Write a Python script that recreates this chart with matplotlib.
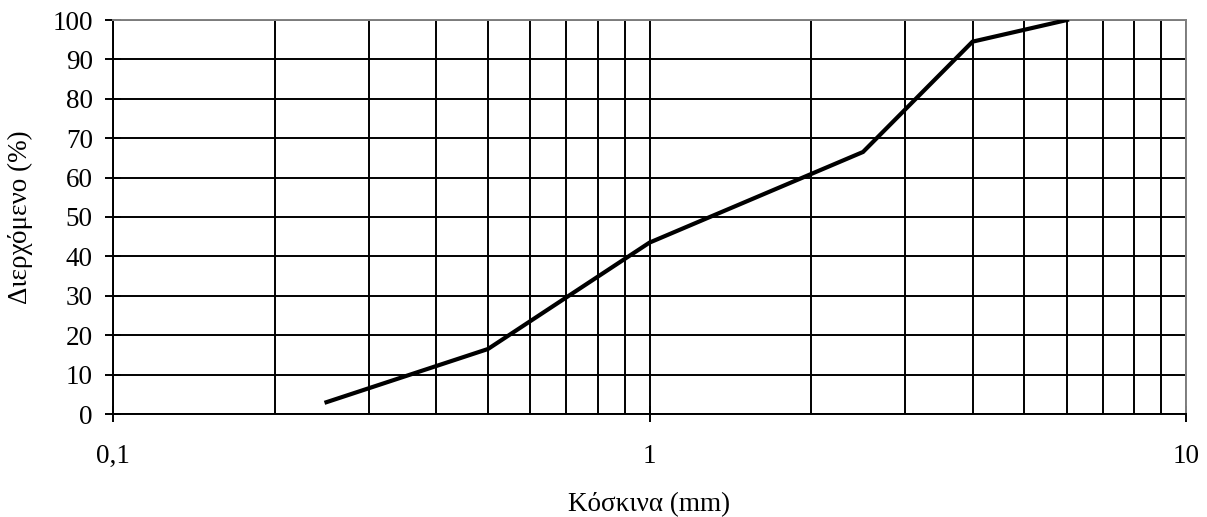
import matplotlib.pyplot as plt
from matplotlib.ticker import LogLocator, FixedLocator, NullFormatter

# Sieve analysis data
sieve_mm = [0.25, 0.5, 1.0, 2.5, 4.0, 6.0]
passing_pct = [3.0, 16.5, 43.5, 66.5, 94.5, 100.0]

x_ticks = [0.1, 1, 10]
x_tick_labels = ["0,1", "1", "10"]
y_ticks = list(range(0, 101, 10))

plt.rcParams['font.family'] = ['Liberation Serif', 'DejaVu Serif']

fig = plt.figure(figsize=(12.07, 5.17), dpi=100)
ax = fig.add_axes([113 / 1207, 1 - 414 / 517, (1186 - 113) / 1207, (414 - 20) / 517])

ax.plot(sieve_mm, passing_pct, color='black', linewidth=3.0, solid_joinstyle='miter', zorder=3)

ax.set_xscale('log')
ax.set_xlim(0.1, 10)
ax.set_ylim(0, 100)

ax.xaxis.set_major_locator(FixedLocator(x_ticks))
ax.set_xticklabels(x_tick_labels)
ax.xaxis.set_minor_locator(LogLocator(base=10, subs=range(2, 10)))
ax.xaxis.set_minor_formatter(NullFormatter())
ax.set_yticks(y_ticks)

ax.grid(which='major', axis='both', color='black', linewidth=1.4)
ax.grid(which='minor', axis='x', color='black', linewidth=1.4)
ax.set_axisbelow(True)

ax.tick_params(axis='both', which='major', direction='inout', length=11, width=1.4,
               labelsize=19.5, color='black')
ax.tick_params(axis='x', which='major', pad=16)
ax.tick_params(axis='y', which='major', pad=9)
ax.tick_params(axis='x', which='minor', length=0)

for side in ['left', 'bottom']:
    ax.spines[side].set_color('black')
    ax.spines[side].set_linewidth(1.4)
for side in ['top', 'right']:
    ax.spines[side].set_color('#808080')
    ax.spines[side].set_linewidth(1.4)

ax.set_xlabel("Κόσκινα (mm)", fontsize=19.5, labelpad=17)
ax.set_ylabel("Διερχόμενο (%)", fontsize=19.5, labelpad=14)

fig.savefig("out.png", dpi=100)
